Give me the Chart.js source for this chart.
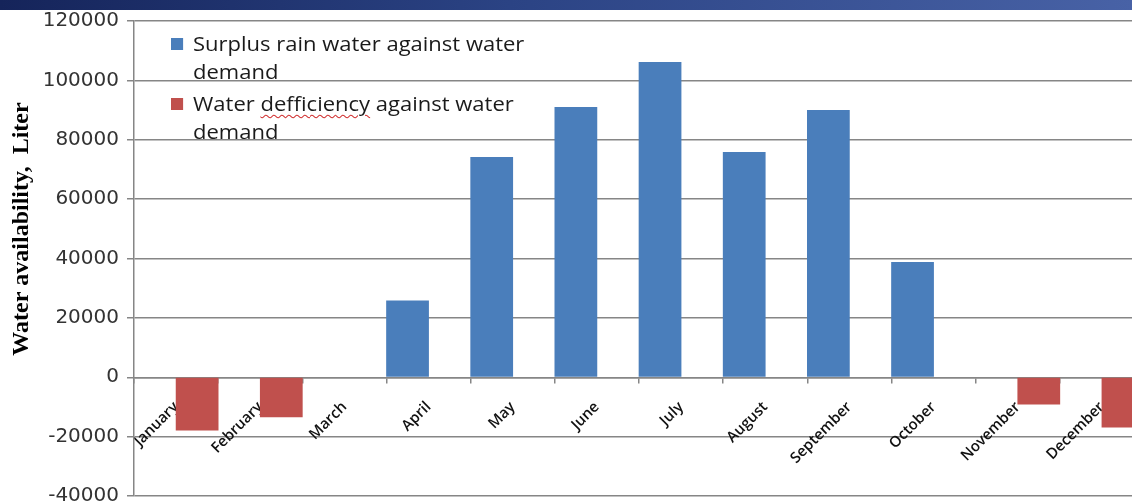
<!DOCTYPE html>
<html>
<head>
<meta charset="utf-8">
<script src="https://cdn.jsdelivr.net/npm/chart.js@4.4.1/dist/chart.umd.min.js"></script>
<style>
    html, body {
        margin: 0;
        padding: 0;
        background: #ffffff;
        overflow: hidden;
    }
    .frame {
        position: relative;
        width: 1132px;
        height: 502px;
        overflow: hidden;
        background: #ffffff;
    }
    .top-band {
        position: absolute;
        left: 0;
        top: 0;
        width: 100%;
        height: 10px;
        background: linear-gradient(to right, #15245a 0%, #2b4384 45%, #4862a6 100%);
        z-index: 2;
    }
    #chart {
        position: absolute;
        left: 0;
        top: 0;
    }
    .legend {
        position: absolute;
        left: 171px;
        top: 30px;
        font-family: 'Open Sans', sans-serif;
        font-size: 20px;
        line-height: 28px;
        color: #1a1a1a;
        transform: scaleX(1.1);
        transform-origin: left top;
        z-index: 3;
    }
    .legend-item {
        position: relative;
        padding-left: 20px;
        margin-bottom: 4px;
    }
    .legend-item .swatch {
        position: absolute;
        left: 0;
        top: 8px;
        width: 11px;
        height: 12px;
    }
    .spell {
        text-decoration: underline wavy #d03030;
        text-decoration-thickness: 1px;
        text-underline-offset: 3px;
    }
</style>
</head>
<body>
<div class="frame">
    <div class="top-band"></div>
    <canvas id="chart" width="1160" height="516"></canvas>
    <div class="legend" id="legend"></div>
</div>
<script>
const months = ['January', 'February', 'March', 'April', 'May', 'June', 'July',
    'August', 'September', 'October', 'November', 'December'];
// null = no bar for that series in that month
const surplus = [null, null, null, 25700, 74100, 90900, 106100, 75800, 89900, 38700, null, null];
const deficiency = [-17800, -13400, null, null, null, null, null, null, null, null, -9100, -16800];
const surplusLabel = ['Surplus rain water against water', 'demand'];
const deficiencyLabel = ['Water defficiency against water', 'demand'];
const yTicks = [-40000, -20000, 0, 20000, 40000, 60000, 80000, 100000, 120000];
const yTitle = 'Water availability,  Liter';

const BLUE = '#4a7ebb';
const RED = '#c0504d';
const GRID = '#868686';

document.addEventListener('DOMContentLoaded', () => {
    initChart();
    buildLegend();
});

// rotated axis title, sits a bit above the middle like the original
const yTitlePlugin = {
    id: 'yTitle',
    afterDraw(chart) {
        const ctx = chart.ctx;
        ctx.save();
        ctx.translate(22, 229);
        ctx.rotate(-Math.PI / 2);
        ctx.font = 'bold 24px "Liberation Serif", serif';
        ctx.fillStyle = '#000000';
        ctx.textAlign = 'center';
        ctx.textBaseline = 'middle';
        ctx.fillText(yTitle, 0, 0);
        ctx.restore();
    }
};

function initChart() {
    const canvas = document.getElementById('chart');

    new Chart(canvas, {
        type: 'bar',
        data: {
            labels: months,
            datasets: [
                {
                    label: surplusLabel.join(' '),
                    data: surplus,
                    backgroundColor: BLUE,
                    borderWidth: 0,
                    categoryPercentage: 1,
                    barPercentage: 1
                },
                {
                    label: deficiencyLabel.join(' '),
                    data: deficiency,
                    backgroundColor: RED,
                    borderWidth: 0,
                    categoryPercentage: 1,
                    barPercentage: 1
                }
            ]
        },
        options: {
            responsive: false,
            animation: false,
            layout: {
                padding: { top: 21, right: 16, bottom: 16, left: 0 }
            },
            plugins: {
                legend: { display: false },
                tooltip: { enabled: false }
            },
            scales: {
                x: {
                    position: { y: 0 },
                    grid: {
                        offset: true,
                        drawOnChartArea: false,
                        drawTicks: true,
                        tickLength: 5,
                        color: GRID,
                        lineWidth: 1.5
                    },
                    border: {
                        color: GRID,
                        width: 1.5
                    },
                    ticks: {
                        autoSkip: false,
                        minRotation: 45,
                        maxRotation: 45,
                        padding: 16,
                        color: '#111111',
                        font: {
                            family: "'Open Sans', sans-serif",
                            size: 15,
                            weight: '600'
                        }
                    }
                },
                y: {
                    min: yTicks[0],
                    max: yTicks[yTicks.length - 1],
                    afterFit(scale) {
                        scale.width = 134;
                    },
                    afterBuildTicks(scale) {
                        scale.ticks = yTicks.map((v) => ({ value: v }));
                    },
                    grid: {
                        color: GRID,
                        lineWidth: 1.5,
                        tickLength: 7
                    },
                    border: {
                        color: GRID,
                        width: 1.5
                    },
                    ticks: {
                        padding: 8,
                        color: '#333333',
                        font: {
                            family: "'DejaVu Sans', sans-serif",
                            size: 20
                        },
                        callback(value) {
                            return String(value);
                        }
                    }
                }
            }
        },
        plugins: [yTitlePlugin]
    });
}

function buildLegend() {
    const legend = document.getElementById('legend');
    const items = [
        { lines: surplusLabel, color: BLUE },
        { lines: deficiencyLabel, color: RED }
    ];

    items.forEach((item) => {
        const row = document.createElement('div');
        row.className = 'legend-item';

        const swatch = document.createElement('span');
        swatch.className = 'swatch';
        swatch.style.background = item.color;
        row.appendChild(swatch);

        item.lines.forEach((line) => {
            const text = document.createElement('div');
            // the misspelt word keeps the red squiggle seen in the source
            if (line.includes('defficiency')) {
                const parts = line.split('defficiency');
                text.appendChild(document.createTextNode(parts[0]));
                const mark = document.createElement('span');
                mark.className = 'spell';
                mark.textContent = 'defficiency';
                text.appendChild(mark);
                text.appendChild(document.createTextNode(parts[1]));
            } else {
                text.textContent = line;
            }
            row.appendChild(text);
        });

        legend.appendChild(row);
    });
}
</script>
</body>
</html>
